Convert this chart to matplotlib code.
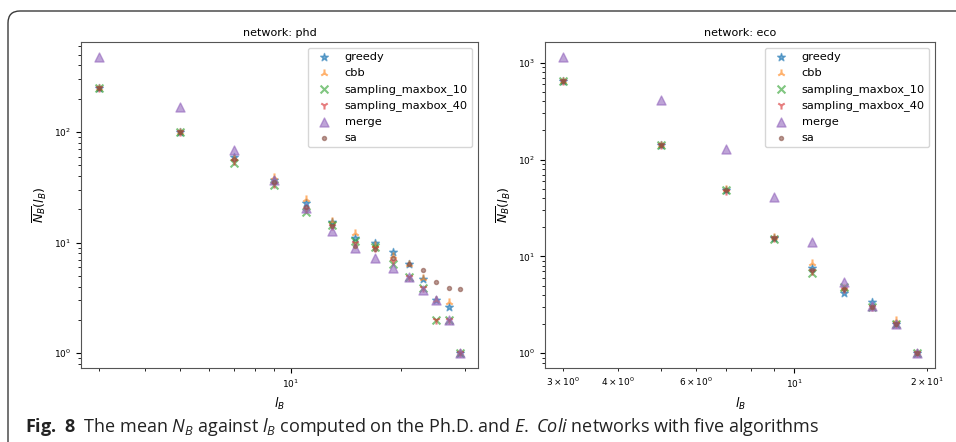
import numpy as np
import matplotlib
matplotlib.use("Agg")
import matplotlib.pyplot as plt
from matplotlib.patches import FancyBboxPatch
from matplotlib.transforms import IdentityTransform

# box size l_B
phd_lb = [3, 5, 7, 9, 11, 13, 15, 17, 19, 21, 23, 25, 27, 29]
eco_lb = [3, 5, 7, 9, 11, 13, 15, 17, 19]

# mean N_B, phd network
phd_greedy = [250, 100, 59, 37, 23, 15.5, 11.1, 10, 8.3, 6.4, 4.7, 3.0, 2.6, 1]
phd_cbb = [250, 100, 58, 39, 25, 15.7, 12.3, 9.6, 7.6, 6.4, 4.8, 3.0, 2.9, 1]
phd_sm10 = [250, 100, 52.5, 33, 19, 14.5, 10.4, 9.2, 6.4, 4.9, 3.9, 2, 2, 1]
phd_sm40 = [250, 100, 55, 34, 20, 14, 10, 9, 6.8, 4.9, 3.9, 2, 2, 1]
phd_merge = [478, 168, 68.8, 37, 20.7, 12.8, 9.0, 7.3, 5.9, 4.9, 3.7, 3.0, 2, 1]
phd_sa = [250, 100, 57, 35.4, 21, 14.2, 9.4, 8.8, 7.2, 6.4, 5.6, 4.4, 3.9, 3.8]

# mean N_B, eco network
eco_greedy = [640, 140, 49, 15.5, 7.6, 4.2, 3.35, 2.0, 1]
eco_cbb = [640, 140, 50, 16, 8.5, 4.7, 3.0, 2.2, 1]
eco_sm10 = [640, 140, 48, 15, 6.7, 4.8, 3.0, 2.0, 1]
eco_sm40 = [640, 140, 47, 15.5, 7.0, 4.6, 3.0, 2.0, 1]
eco_merge = [1150, 410, 129, 41, 14, 5.4, 3.05, 2.0, 1]
eco_sa = [640, 140, 48.5, 15.5, 7.2, 4.6, 3.0, 2.0, 1]

names = ["greedy", "cbb", "sampling_maxbox_10", "sampling_maxbox_40", "merge", "sa"]
markers = ["*", "2", "x", "1", "^", "."]
sizes = [34, 34, 32, 34, 42, 34]

plt.rcParams["mathtext.fontset"] = "custom"
plt.rcParams["mathtext.rm"] = "Open Sans"
plt.rcParams["mathtext.it"] = "Open Sans:italic"
plt.rcParams["mathtext.bf"] = "Open Sans:bold"

fig = plt.figure(figsize=(9.56, 4.42), dpi=100)
ax1 = fig.add_axes([0.0847, 0.1674, 0.4153, 0.7376])
ax2 = fig.add_axes([0.5701, 0.1674, 0.408, 0.7376])

panels = [
    (ax1, "phd", phd_lb, [phd_greedy, phd_cbb, phd_sm10, phd_sm40, phd_merge, phd_sa]),
    (ax2, "eco", eco_lb, [eco_greedy, eco_cbb, eco_sm10, eco_sm40, eco_merge, eco_sa]),
]

for ax, net, lb, series in panels:
    for i, ys in enumerate(series):
        ax.scatter(lb, ys, marker=markers[i], s=sizes[i], color="C%d" % i,
                   alpha=0.6, label=names[i])
    ax.set_xscale("log")
    ax.set_yscale("log")
    ax.set_title("network: " + net, fontsize=8, pad=4)
    ax.set_xlabel("$l_B$", fontsize=9, math_fontfamily="dejavusans")
    ax.set_ylabel(r"$\overline{N_B}(l_B)$", fontsize=9, math_fontfamily="dejavusans")
    ax.tick_params(labelsize=6.5, which="both")
    for sp in ax.spines.values():
        sp.set_color("#555555")
    ax.legend(loc="upper right", fontsize=8.2, borderaxespad=0.5)

# tick labels use mathtext too, keep them in dejavu
fig.canvas.draw()
for ax in [ax1, ax2]:
    for lab in ax.get_xticklabels(which="both") + ax.get_yticklabels(which="both"):
        lab.set_math_fontfamily("dejavusans")

# rounded frame
frame = FancyBboxPatch((8, -30), 1000, 442 - 11 + 30, boxstyle="round,pad=0,rounding_size=12",
                       transform=IdentityTransform(), fill=False, edgecolor="#3a3a3a",
                       linewidth=1.0)
fig.patches.append(frame)

fig.text(0.026, 0.034,
         r"$\mathbf{Fig.\ 8}$  The mean $N_B$ against $l_B$ computed on the Ph.D. and $E.$ $Coli$ networks with five algorithms",
         fontsize=13, family="Open Sans", va="center", ha="left", color="#222222")

fig.savefig("out.png", dpi=100)
